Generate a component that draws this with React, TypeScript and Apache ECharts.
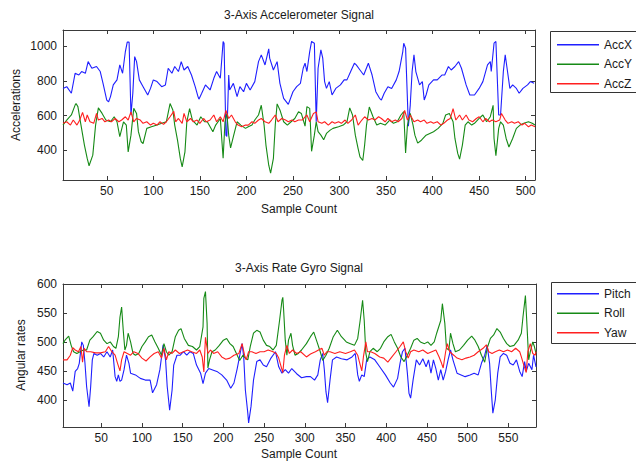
import React, { useEffect, useRef } from "react";
import * as echarts from "echarts";

// ---------- data (sample index, value) ----------
const accX: [number, number][] = [
  [3,757],[7,767],[12,729],[16,844],[20,834],[23,854],[27,844],[30,911],[34,873],[39,883],[43,854],[46,786],[50,690],[52,680],[54,710],[57,777],[61,806],[64,892],[67,844],[70,969],[72,1023],[74,1023],[76,604],[78,729],[80,940],[82,911],[85,806],[88,777],[91,748],[94,719],[97,757],[100,806],[104,796],[109,767],[113,777],[116,873],[120,844],[123,883],[127,854],[130,911],[133,863],[137,883],[141,834],[145,767],[148,710],[149,695],[152,729],[156,777],[161,748],[165,815],[168,854],[172,815],[175,1027],[176,1017],[178,488],[179,480],[181,834],[182,748],[186,786],[190,710],[193,767],[197,738],[200,786],[204,748],[209,796],[213,911],[216,950],[220,892],[224,985],[225,931],[229,863],[233,911],[236,786],[240,700],[245,665],[250,738],[254,767],[258,786],[261,873],[263,902],[265,854],[268,969],[270,1027],[273,1017],[275,565],[277,873],[280,979],[282,931],[284,796],[286,757],[289,796],[292,719],[296,757],[301,777],[305,806],[308,806],[312,854],[316,902],[318,892],[322,863],[326,834],[331,902],[335,834],[339,738],[343,700],[345,690],[348,729],[352,767],[356,757],[361,806],[364,854],[368,969],[369,1017],[371,988],[374,540],[376,661],[378,854],[380,950],[382,854],[386,777],[389,796],[391,690],[393,719],[396,777],[401,806],[405,806],[410,834],[413,834],[417,883],[420,863],[424,883],[428,911],[431,873],[436,777],[440,719],[445,719],[450,757],[454,796],[459,892],[462,911],[463,854],[466,1017],[468,1027],[471,604],[473,604],[476,854],[478,950],[480,873],[483,757],[486,777],[490,757],[493,729],[497,757],[502,777],[505,796],[509,786]
];
const accY: [number, number][] = [
  [3,546],[7,575],[12,604],[16,661],[17,670],[19,652],[22,556],[26,431],[29,354],[31,312],[35,373],[38,546],[41,645],[45,613],[49,575],[54,565],[58,594],[61,565],[64,479],[68,565],[71,546],[73,392],[76,488],[79,642],[82,613],[84,508],[87,450],[89,440],[93,527],[98,536],[104,546],[109,556],[114,565],[118,670],[121,633],[123,546],[126,459],[129,354],[131,306],[134,392],[136,565],[139,640],[142,575],[147,546],[151,594],[155,565],[158,565],[164,508],[167,546],[172,584],[175,355],[177,565],[179,613],[181,488],[183,415],[186,479],[190,565],[194,546],[199,527],[202,536],[206,546],[209,575],[213,604],[216,660],[219,546],[221,431],[224,315],[226,270],[229,354],[231,546],[233,668],[236,633],[240,565],[244,546],[248,565],[252,584],[256,623],[259,613],[263,540],[265,652],[268,642],[270,395],[273,488],[275,565],[277,508],[280,488],[283,462],[286,498],[290,517],[293,527],[299,536],[304,546],[308,565],[311,645],[314,604],[317,488],[320,411],[322,363],[325,342],[327,431],[329,546],[332,650],[336,594],[340,546],[344,556],[349,546],[354,575],[358,556],[362,565],[366,604],[369,623],[371,385],[373,546],[376,613],[379,546],[381,488],[384,442],[388,459],[393,488],[397,498],[401,508],[406,527],[411,556],[414,604],[418,613],[422,565],[424,469],[427,383],[429,350],[432,431],[435,546],[438,565],[442,546],[445,556],[450,584],[454,604],[458,565],[462,594],[465,660],[466,469],[468,370],[471,527],[473,565],[476,546],[479,469],[482,420],[486,469],[490,527],[494,546],[498,556],[503,565],[507,556],[510,546]
];
const accZ: [number, number][] = [
  [3,556],[7,565],[11,546],[14,575],[18,546],[21,575],[24,619],[27,565],[29,604],[32,565],[36,556],[39,613],[41,575],[45,584],[48,565],[52,575],[55,565],[59,584],[63,565],[66,575],[70,594],[73,575],[76,622],[79,565],[82,584],[86,575],[89,556],[93,565],[97,546],[100,556],[104,546],[107,565],[111,550],[114,565],[118,594],[122,625],[124,565],[127,584],[131,556],[133,613],[136,565],[140,584],[143,565],[147,575],[150,556],[154,584],[157,565],[161,575],[165,604],[168,565],[172,594],[175,565],[178,630],[181,584],[184,604],[188,565],[191,546],[195,536],[199,546],[202,546],[206,565],[209,556],[213,575],[216,584],[220,565],[224,556],[227,575],[231,604],[234,565],[238,584],[242,575],[245,565],[249,575],[252,565],[256,575],[260,575],[265,604],[268,565],[272,613],[275,622],[277,565],[281,556],[284,565],[288,546],[292,565],[295,556],[299,565],[302,556],[306,575],[309,556],[313,575],[317,604],[320,546],[324,575],[327,594],[331,575],[335,584],[338,575],[342,594],[345,584],[349,565],[352,584],[356,565],[360,575],[363,565],[367,584],[370,630],[373,575],[376,604],[380,565],[384,575],[387,565],[391,575],[394,556],[398,565],[401,556],[405,565],[409,546],[412,556],[416,575],[419,584],[422,640],[425,575],[429,604],[432,575],[436,604],[439,575],[443,565],[447,584],[450,594],[454,565],[457,584],[461,565],[464,575],[468,565],[472,575],[474,613],[478,575],[481,556],[485,565],[488,556],[492,565],[496,546],[499,556],[503,536],[506,546],[510,536]
];
const pitch: [number, number][] = [
  [3,429],[8,426],[12,429],[15,415],[18,449],[21,454],[23,463],[26,500],[28,494],[30,463],[32,423],[35,388],[37,423],[39,469],[41,480],[45,477],[49,480],[53,474],[57,483],[61,474],[64,486],[67,440],[69,432],[71,443],[73,432],[75,434],[78,452],[81,477],[84,463],[86,446],[92,443],[98,437],[104,434],[110,434],[113,412],[118,426],[122,452],[126,495],[129,469],[131,423],[134,382],[137,417],[139,460],[143,477],[147,477],[151,483],[155,477],[159,483],[163,480],[167,460],[172,446],[175,428],[178,446],[182,454],[186,452],[192,449],[198,443],[204,434],[209,420],[213,429],[217,454],[221,483],[223,497],[225,474],[227,417],[230,377],[231,360],[234,389],[237,434],[241,466],[245,469],[249,460],[253,457],[258,471],[264,483],[268,457],[272,446],[276,452],[280,446],[284,454],[290,445],[296,438],[302,440],[307,440],[312,434],[316,443],[319,469],[322,480],[324,452],[326,414],[328,395],[331,434],[334,469],[339,474],[345,471],[352,469],[358,474],[362,480],[365,443],[367,432],[370,443],[373,440],[376,469],[380,474],[386,469],[392,457],[399,443],[405,429],[409,422],[414,437],[417,463],[420,483],[423,489],[426,446],[428,411],[430,403],[433,434],[437,469],[441,460],[445,471],[449,457],[452,469],[455,446],[458,469],[461,454],[464,434],[467,452],[470,434],[473,449],[476,469],[479,486],[482,469],[487,446],[492,443],[497,440],[503,443],[508,446],[513,443],[517,463],[521,477],[524,494],[527,463],[529,417],[531,377],[534,400],[537,446],[540,474],[544,480],[548,477],[552,463],[556,460],[560,469],[564,449],[567,440],[570,466],[572,449],[575,463],[579,452],[581,477],[584,457]
];
const roll: [number, number][] = [
  [3,497],[6,504],[10,510],[13,494],[16,483],[20,480],[24,483],[28,486],[32,486],[36,503],[40,509],[45,518],[49,515],[53,503],[57,497],[61,500],[65,492],[68,489],[71,509],[73,543],[75,560],[77,520],[79,486],[81,494],[83,515],[86,500],[89,480],[92,477],[96,480],[100,492],[104,500],[108,509],[112,512],[116,500],[120,489],[124,477],[127,497],[130,483],[133,477],[137,483],[141,509],[145,520],[148,523],[152,506],[157,494],[162,492],[167,486],[171,492],[175,526],[176,575],[178,587],[180,532],[181,455],[183,469],[186,483],[190,486],[195,494],[200,503],[204,506],[208,497],[212,492],[216,480],[220,468],[224,477],[227,472],[230,469],[233,492],[237,515],[241,520],[245,517],[249,503],[253,494],[257,492],[261,486],[265,494],[269,537],[272,572],[273,577],[274,555],[276,503],[278,477],[280,503],[283,515],[285,494],[288,477],[292,480],[296,486],[302,497],[307,509],[311,517],[315,500],[319,483],[322,468],[326,477],[330,489],[335,509],[340,520],[345,509],[351,500],[356,497],[361,494],[365,506],[368,537],[371,572],[373,537],[375,480],[377,466],[380,483],[384,489],[389,483],[393,489],[397,500],[402,509],[406,513],[410,500],[414,489],[418,474],[422,466],[426,477],[430,489],[434,503],[438,506],[442,500],[447,497],[451,500],[455,494],[459,500],[462,515],[467,537],[469,566],[472,532],[474,489],[477,486],[479,515],[482,497],[485,483],[490,486],[495,494],[500,503],[505,510],[509,503],[513,492],[517,477],[521,465],[524,489],[528,506],[532,512],[536,523],[540,517],[544,506],[548,497],[552,492],[557,494],[562,503],[566,515],[568,543],[571,580],[573,526],[575,469],[577,483],[580,500],[582,492],[584,480]
];
const yaw: [number, number][] = [
  [3,469],[8,469],[12,477],[15,490],[18,486],[22,483],[25,492],[27,465],[29,489],[32,483],[37,483],[43,481],[49,481],[55,483],[59,492],[63,483],[67,477],[70,463],[73,450],[75,469],[78,483],[82,480],[86,477],[90,483],[95,480],[100,472],[105,467],[110,474],[115,480],[120,483],[124,472],[127,489],[130,469],[133,483],[137,480],[141,486],[146,480],[151,483],[156,486],[161,483],[167,480],[171,486],[174,474],[176,448],[178,508],[181,480],[184,486],[188,480],[193,483],[198,474],[203,470],[208,472],[213,477],[219,480],[223,497],[226,477],[228,469],[231,483],[235,483],[240,480],[245,483],[250,483],[255,486],[261,483],[265,480],[268,472],[271,457],[273,447],[275,477],[278,494],[281,480],[285,486],[290,480],[295,483],[302,474],[307,479],[313,483],[318,487],[321,489],[324,477],[327,483],[331,483],[337,480],[343,483],[350,480],[356,483],[361,486],[365,477],[367,466],[370,450],[372,474],[375,500],[377,483],[381,483],[386,480],[392,474],[397,472],[402,465],[407,474],[412,483],[417,492],[421,500],[424,483],[427,472],[430,483],[434,486],[440,483],[445,486],[451,480],[456,483],[461,486],[465,474],[468,463],[470,455],[473,483],[475,497],[478,483],[483,477],[487,472],[493,469],[498,472],[503,474],[508,477],[513,483],[519,489],[523,495],[526,483],[530,480],[534,483],[539,486],[544,483],[549,486],[554,483],[559,489],[564,483],[566,474],[569,460],[572,447],[574,483],[577,497],[580,480],[583,477],[584,483]
];

const accXTicks = [50, 100, 150, 200, 250, 300, 350, 400, 450, 500];
const accYTicks = [400, 600, 800, 1000];
const gyroXTicks = [50, 100, 150, 200, 250, 300, 350, 400, 450, 500, 550];
const gyroYTicks = [400, 450, 500, 550, 600];
const accNames = ["AccX", "AccY", "AccZ"];
const gyroNames = ["Pitch", "Roll", "Yaw"];
const colors = ["#1f1fff", "#168a16", "#ff1f1f"];

const FONT = "'Liberation Sans', Arial, Helvetica, sans-serif";
const AXIS = "#3a3a3a";
const TXT = "#1a1a1a";
const plain = (v: number) => String(v);

function xAx(grid: number, min: number, max: number, ticks: number[], pos: "bottom" | "top") {
  return {
    type: "value", gridIndex: grid, min, max, position: pos,
    axisLine: { show: true, onZero: false, lineStyle: { color: AXIS, width: 1 } },
    axisTick: { show: true, inside: true, length: 4, customValues: ticks, lineStyle: { color: AXIS } },
    axisLabel: { show: pos === "bottom", customValues: ticks, formatter: plain, color: TXT, fontSize: 12, fontFamily: FONT, margin: 5 },
    splitLine: { show: false },
  };
}
function yAx(grid: number, min: number, max: number, ticks: number[], pos: "left" | "right") {
  return {
    type: "value", gridIndex: grid, min, max, position: pos,
    axisLine: { show: true, onZero: false, lineStyle: { color: AXIS, width: 1 } },
    axisTick: { show: true, inside: true, length: 4, customValues: ticks, lineStyle: { color: AXIS } },
    axisLabel: { show: pos === "left", customValues: ticks, formatter: plain, color: TXT, fontSize: 12, fontFamily: FONT, margin: 6 },
    splitLine: { show: false },
  };
}
function line(name: string, data: [number, number][], color: string, axis: number) {
  return {
    name, type: "line", data, xAxisIndex: axis, yAxisIndex: axis,
    symbol: "none", showSymbol: false, color,
    lineStyle: { color, width: 1.1 }, emphasis: { disabled: true },
  };
}
function legend(names: string[], top: number) {
  return {
    data: names, orient: "vertical", left: 557, top, padding: 0, itemGap: 0,
    itemWidth: 42, itemHeight: 1.5, icon: "rect", selectedMode: false, z: 10,
    textStyle: { fontSize: 12, lineHeight: 19.5, color: TXT, fontFamily: FONT },
  };
}
function txt(text: string, x: number, y: number, rot = 0) {
  return {
    type: "text", x, y, rotation: rot, z: 20,
    style: { text, fill: TXT, font: `12px ${FONT}`, align: "center", verticalAlign: "middle" },
  };
}

export default function App() {
  const ref = useRef<HTMLDivElement>(null);
  useEffect(() => {
    if (!ref.current) return;
    const chart = echarts.init(ref.current, undefined, { renderer: "svg" });
    chart.setOption({
      animation: false,
      backgroundColor: "#ffffff",
      grid: [
        { left: 63, top: 30, width: 472, height: 150 },
        { left: 63, top: 284, width: 473, height: 143 },
      ],
      xAxis: [
        xAx(0, 3, 510, accXTicks, "bottom"),
        xAx(0, 3, 510, accXTicks, "top"),
        xAx(1, 3, 584, gyroXTicks, "bottom"),
        xAx(1, 3, 584, gyroXTicks, "top"),
      ],
      yAxis: [
        yAx(0, 230, 1093, accYTicks, "left"),
        yAx(0, 230, 1093, accYTicks, "right"),
        yAx(1, 353, 600, gyroYTicks, "left"),
        yAx(1, 353, 600, gyroYTicks, "right"),
      ],
      legend: [legend(accNames, 35), legend(gyroNames, 284)],
      series: [
        line(accNames[0], accX, colors[0], 0),
        line(accNames[1], accY, colors[1], 0),
        line(accNames[2], accZ, colors[2], 0),
        line(gyroNames[0], pitch, colors[0], 2),
        line(gyroNames[1], roll, colors[1], 2),
        line(gyroNames[2], yaw, colors[2], 2),
      ],
      graphic: [
        { type: "rect", z: 1, shape: { x: 550.5, y: 31.5, width: 100, height: 61 }, style: { fill: "#fff", stroke: "#333", lineWidth: 1 } },
        { type: "rect", z: 1, shape: { x: 551.5, y: 282.5, width: 100, height: 61 }, style: { fill: "#fff", stroke: "#333", lineWidth: 1 } },
        txt("3-Axis Accelerometer Signal", 299, 15),
        txt("Sample Count", 299, 209),
        txt("Accelerations", 16, 105, Math.PI / 2),
        txt("3-Axis Rate Gyro Signal", 299, 268),
        txt("Sample Count", 299, 454),
        txt("Angular rates", 21, 355, Math.PI / 2),
      ],
    });
    return () => chart.dispose();
  }, []);
  return <div ref={ref} style={{ position: "absolute", left: 0, top: 0, width: 636, height: 464 }} />;
}
